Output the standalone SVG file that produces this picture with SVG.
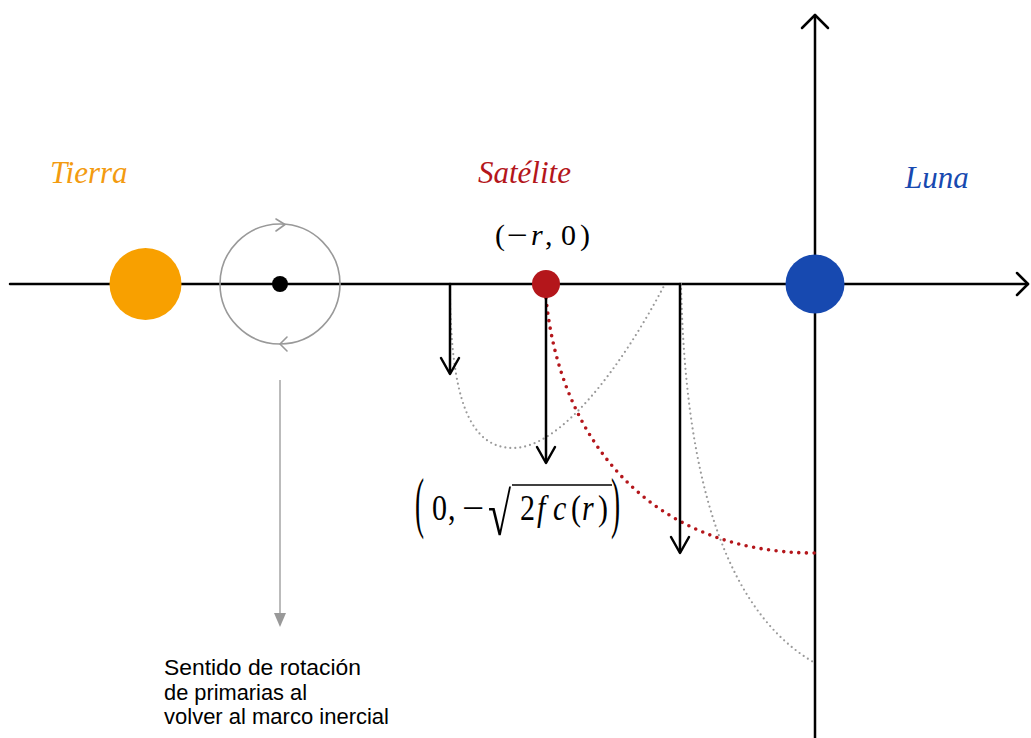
<svg xmlns="http://www.w3.org/2000/svg" width="1031" height="738" viewBox="0 0 1031 738">
<style>
.axis{stroke:#000;stroke-width:2.5;fill:none;stroke-linecap:round;stroke-linejoin:round}
.arr{stroke:#000;stroke-width:2.5;fill:none;stroke-linecap:round;stroke-linejoin:round}
.gdot{stroke:#9a9a9a;stroke-width:2.2;fill:none;stroke-dasharray:0 5;stroke-linecap:round}
.rdot{stroke:#B4161B;stroke-width:3.6;fill:none;stroke-dasharray:0 7.6;stroke-linecap:round}
.orbit{stroke:#999;stroke-width:1.6;fill:none;stroke-linecap:round;stroke-linejoin:round}
.lbl{font-family:"Liberation Serif","Times New Roman",serif;font-style:italic;font-size:31px}
.math{font-family:"Liberation Serif","Times New Roman",serif;font-size:30px;fill:#000}
.it{font-style:italic}
.note{font-family:"Liberation Sans",Arial,sans-serif;font-size:21.5px;fill:#000}
</style>
<rect width="1031" height="738" fill="#fff"/>

<g id="axes">
<line class="axis" x1="10" y1="284" x2="1028" y2="284"/>
<polyline class="axis" points="1017,273 1028,284 1017,295"/>
<line class="axis" x1="815" y1="738" x2="815" y2="15"/>
<polyline class="axis" points="802,28 815,15 828,28"/>
</g>

<g id="connectors">
<path class="gdot" d="M450,284 C450,400 470,448 513,448 C560,448 620,370 665,284"/>
<path class="gdot" d="M681,284 C684,420 705,600 815,663"/>
<path class="rdot" d="M546,298 C560,440 650,553 815,553"/>
<line class="arr" x1="450" y1="284" x2="450" y2="373"/>
<polyline class="arr" points="441,358 450,374 459,358"/>
<line class="arr" x1="546" y1="296" x2="546" y2="462"/>
<polyline class="arr" points="537,447 546,463 555,447"/>
<line class="arr" x1="680" y1="284" x2="680" y2="552"/>
<polyline class="arr" points="671,537 680,553 689,537"/>
<line x1="280" y1="380" x2="280" y2="614" stroke="#aaa" stroke-width="1.6"/>
<polygon points="274,613 286,613 280,627" fill="#999"/>
</g>

<g id="rotation">
<circle class="orbit" cx="280" cy="284" r="60"/>
<polyline class="orbit" points="276,219 285,224.5 276,231"/>
<polyline class="orbit" points="287,337 280,344 287,351"/>
<circle cx="280" cy="284" r="8" fill="#000"/>
</g>

<g id="tierra">
<circle cx="145.5" cy="284" r="36" fill="#F8A000"/>
<text class="lbl" x="50" y="183" fill="#F39B10">Tierra</text>
</g>

<g id="satelite">
<circle cx="546" cy="284" r="14" fill="#B4161B"/>
<text class="lbl" x="478" y="183" fill="#B4161B">Satélite</text>
<text class="math" x="495" y="245">(<tspan x="507" textLength="21" lengthAdjust="spacingAndGlyphs">−</tspan><tspan class="it" x="531">r</tspan><tspan x="545">,</tspan><tspan x="561">0</tspan><tspan x="580">)</tspan></text>
</g>

<g id="luna">
<circle cx="815" cy="284" r="29.5" fill="#1749B0"/>
<text class="lbl" x="905" y="188" fill="#1749B0">Luna</text>
</g>

<g id="velocidad">
<text class="math" style="font-size:34px" transform="translate(415,525) scale(0.8,1.97)">(</text>
<g transform="translate(0,520) scale(1,1.2)">
<text class="math" x="432" y="0">0<tspan x="448">,</tspan><tspan x="462" textLength="22" lengthAdjust="spacingAndGlyphs">−</tspan><tspan x="520">2</tspan><tspan class="it" x="537">f</tspan><tspan class="it" x="553">c</tspan><tspan x="571">(</tspan><tspan class="it" x="582">r</tspan><tspan x="598">)</tspan></text>
</g>
<text class="math" style="font-size:40px" transform="translate(488,535) scale(1.05,1.53)">√</text>
<line x1="512" y1="485" x2="612" y2="485" stroke="#000" stroke-width="1.5"/>
<text class="math" style="font-size:34px" transform="translate(611,525) scale(0.8,1.97)">)</text>
</g>

<g id="nota">
<text class="note" x="164" y="675" textLength="197" lengthAdjust="spacingAndGlyphs">Sentido de rotación</text>
<text class="note" x="164" y="699.5" textLength="143" lengthAdjust="spacingAndGlyphs">de primarias al</text>
<text class="note" x="164" y="724" textLength="225" lengthAdjust="spacingAndGlyphs">volver al marco inercial</text>
</g>
</svg>
